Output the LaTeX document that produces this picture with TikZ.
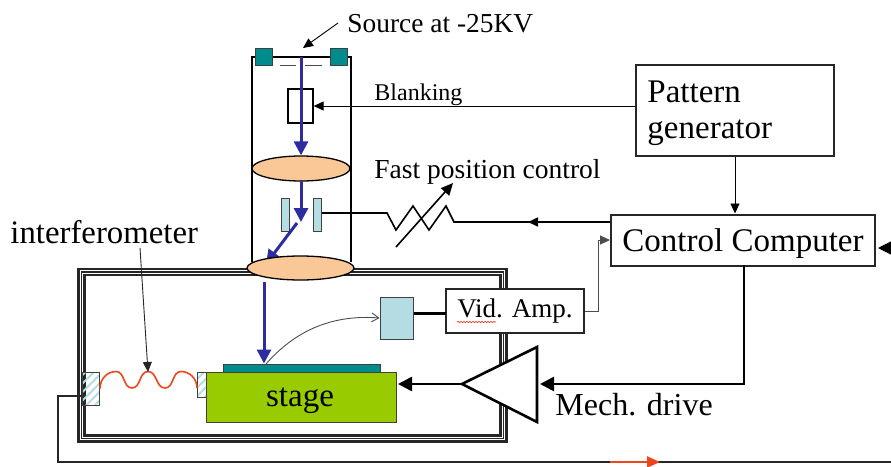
\documentclass[tikz,border=0pt]{standalone}
\usepackage{fontspec}
\setmainfont{Liberation Serif}
\usepackage{tikz}
\usetikzlibrary{positioning, shapes, arrows.meta, patterns.meta, decorations.pathmorphing}
\definecolor{tealpart}{RGB}{0,140,140}
\definecolor{lensfill}{RGB}{250,200,150}
\definecolor{platefill}{RGB}{180,220,226}
\definecolor{stagefill}{RGB}{153,204,0}
\definecolor{beamblue}{RGB}{45,45,160}
\definecolor{wavered}{RGB}{240,70,30}
\tikzset{
    part/.style={draw=black!75, inner sep=0pt, line width=1pt},
    lens/.style={draw=black, fill=lensfill, ellipse, inner sep=0pt, line width=1.3pt},
    textbox/.style={draw=black!85, fill=white, inner sep=0pt, line width=2pt},
    label/.style={inner sep=0pt, anchor=west},
    smalltip/.style={-{Triangle[length=10pt, width=9pt]}},
    bigtip/.style={-{Triangle[length=14pt, width=14pt]}},
    beam/.style={draw=beamblue, line width=3pt, -{Triangle[length=14pt, width=14pt]}},
    hatched/.style={part, pattern={Lines[angle=45, distance=6pt, line width=2pt]}, pattern color=platefill}
}
\begin{document}
\begin{tikzpicture}[x=1pt, y=-1pt, line width=.9pt]
    \useasboundingbox (0,0) rectangle (891,466);
    % chamber
    \draw[line width=8.5pt, black!85] (81.5,272) rectangle (503.5,438.5);
    \draw[line width=3.6pt, white] (81.5,272) rectangle (503.5,438.5);
    \draw[line width=1.8pt, black!85] (81.5,272) rectangle (503.5,438.5);
    % column
    \coordinate (colLeftTop) at (252,57);
    \coordinate (colRightTop) at (351,57);
    \coordinate (colLeftBot) at (252,262);
    \coordinate (colRightBot) at (351,262);
    \draw[line width=2.5pt] (colLeftBot) -- (colLeftTop) -- (colRightTop) -- (colRightBot);
    \node[part, fill=tealpart, minimum width=17pt, minimum height=17pt] (gunL) at (264,56.5) {};
    \node[part, fill=tealpart, minimum width=17pt, minimum height=17pt] (gunR) at (338.5,56.5) {};
    \coordinate (slitA) at (280,65);
    \coordinate (slitB) at (296,65);
    \coordinate (slitC) at (305,65);
    \coordinate (slitD) at (322,65);
    \draw[black!70] (slitA) -- (slitB);
    \draw[black!70] (slitC) -- (slitD);
    \node[part, draw=black, minimum width=25pt, minimum height=34pt, line width=1.3pt] (blanker) at (300.5,106) {};
    \node[lens, minimum width=98pt, minimum height=25pt] (lensUp) at (301,168.5) {};
    \node[part, fill=platefill, minimum width=8pt, minimum height=33pt] (plateL) at (285,214.5) {};
    \node[part, fill=platefill, minimum width=8pt, minimum height=33pt] (plateR) at (317.5,214.5) {};
    % stage
    \node[part, fill=tealpart, minimum width=157pt, minimum height=8pt] (wafer) at (301.5,368) {};
    \node[part, fill=stagefill, minimum width=190pt, minimum height=50pt] (stage) at (301,397) {};
    \node[inner sep=0pt] (stagetext) at (300,401) {\fontsize{33}{36}\selectfont stage};
    \node[hatched, minimum width=17pt, minimum height=33pt] (mirrorL) at (90.5,388.5) {};
    \node[hatched, minimum width=9pt, minimum height=25pt] (mirrorR) at (201.5,384.5) {};
    \draw[wavered, line width=1.6pt] (mirrorL.east) to[out=90,in=180] (116,371.5) to[out=0,in=180] (132,388)
        to[out=0,in=180] (148,371.5) to[out=0,in=180] (165,388) to[out=0,in=180] (181,371.5) to[out=0,in=90] (197,388);
    % beam
    \coordinate (beamTop) at (301,57);
    \coordinate (beamMid) at (301,181);
    \coordinate (beamBend) at (301,222);
    \coordinate (beamDiag) at (297,223);
    \coordinate (beamLow) at (264,282);
    \draw[beam] (beamTop) -- (lensUp.north -| beamTop);
    \draw[beam] (beamMid) -- (beamBend);
    \draw[beam] (beamDiag) -- (266,264);
    \node[lens, minimum width=107pt, minimum height=24pt] (lensLow) at (300.5,268) {};
    \draw[beam] (beamLow) -- (beamLow |- wafer.north);
    % detector
    \node[part, fill=platefill, minimum width=33pt, minimum height=42pt] (detector) at (396.5,318) {};
    \node[textbox, line width=1.2pt, minimum width=138pt, minimum height=44pt] (vidamp) at (515,311) {\fontsize{27}{30}\selectfont Vid. Amp.};
    \draw[wavered!60!red, line width=.6pt, decorate, decoration={snake, amplitude=.7pt, segment length=3pt}] (457,322) -- (496,322);
    \coordinate (waferHit) at (266,364);
    \coordinate (ampLink) at (446,313.5);
    \draw[black!70, -{Straight Barb[length=7pt, width=9pt]}] (waferHit) .. controls (300,325) and (340,315) .. (detector.west);
    \draw[line width=2.4pt] (detector.east |- ampLink) -- (ampLink);
    % boxes on the right
    \node[textbox, minimum width=198pt, minimum height=91pt] (pattern) at (735,110.5) {};
    \node[label] (patternA) at (647,92) {\fontsize{33}{36}\selectfont Pattern};
    \node[label] (patternB) at (647,133) {\fontsize{33}{36}\selectfont generator};
    \node[textbox, minimum width=264pt, minimum height=51pt, text depth=0pt] (control) at (743,240) {\fontsize{33}{36}\selectfont Control Computer};
    \draw[smalltip] (pattern.south) -- (pattern.south |- control.north);
    \draw[smalltip] (pattern.west |- blanker) -- (blanker.east);
    \draw[black!70, smalltip] (vidamp.east) -- (598,311) -- (598,240) -- (control.west);
    \coordinate (extIn) at (891,248);
    \coordinate (extTip) at (878,248);
    \draw[bigtip] (extIn) -- (extTip);
    % amplifier
    \coordinate (ampTip) at (462,384);
    \coordinate (ampTop) at (537,347);
    \coordinate (ampBot) at (537,422);
    \coordinate (ampIn) at (540,384);
    \coordinate (stageIn) at (398,384);
    \draw[line width=2.6pt, fill=white] (ampTip) -- (ampTop) -- (ampBot) -- cycle;
    \draw[line width=2.8pt, bigtip] (744,265) -- (744,384) -- (ampIn);
    \draw[line width=2.6pt, bigtip] (ampTip) -- (stageIn);
    % fast position control
    \coordinate (zigA) at (387,213);
    \coordinate (zigB) at (396,230);
    \coordinate (zigC) at (413,206);
    \coordinate (zigD) at (429,230);
    \coordinate (zigE) at (446,206);
    \coordinate (zigF) at (454,222);
    \coordinate (zigEnd) at (528,222);
    \draw[line width=1.6pt] (plateR.east |- zigA) -- (zigA) -- (zigB) -- (zigC) -- (zigD) -- (zigE) -- (zigF) -- (control.west |- zigF);
    \draw[line width=1.6pt, smalltip] (control.west |- zigEnd) -- (zigEnd);
    \coordinate (trimStart) at (396,247);
    \coordinate (trimEnd) at (453,183);
    \draw[line width=1.6pt, -{Triangle[length=12pt, width=11pt]}] (trimStart) -- (trimEnd);
    % labels
    \node[label] (source) at (347,24) {\fontsize{27.4}{30}\selectfont Source at -25KV};
    \coordinate (sourceStart) at (338,23);
    \coordinate (sourceTip) at (303,48);
    \draw[smalltip] (sourceStart) -- (sourceTip);
    \node[label] (blanking) at (374,95) {\fontsize{24}{27}\selectfont Blanking};
    \node[label] (fast) at (374,172) {\fontsize{27.5}{30}\selectfont Fast position control};
    \node[label] (interfero) at (10,232) {\fontsize{32.8}{36}\selectfont interferometer};
    \node[label] (mech) at (555,405) {\fontsize{32}{36}\selectfont Mech. drive};
    \coordinate (waveFrom) at (140,248);
    \coordinate (waveTop) at (148,372);
    \draw[black!85, smalltip] (waveFrom) -- (waveTop);
    % feedback
    \coordinate (fbLeft) at (58,396);
    \coordinate (fbLow) at (58,462);
    \coordinate (fbEnd) at (891,462);
    \coordinate (redStart) at (610,462);
    \coordinate (redEnd) at (660,462);
    \draw[line width=1.8pt, black!85] (mirrorL.west |- fbLeft) -- (fbLeft) -- (fbLow) -- (fbEnd);
    \draw[wavered, line width=2.5pt, -{Triangle[length=13pt, width=11pt]}] (redStart) -- (redEnd);
\end{tikzpicture}
\end{document}
